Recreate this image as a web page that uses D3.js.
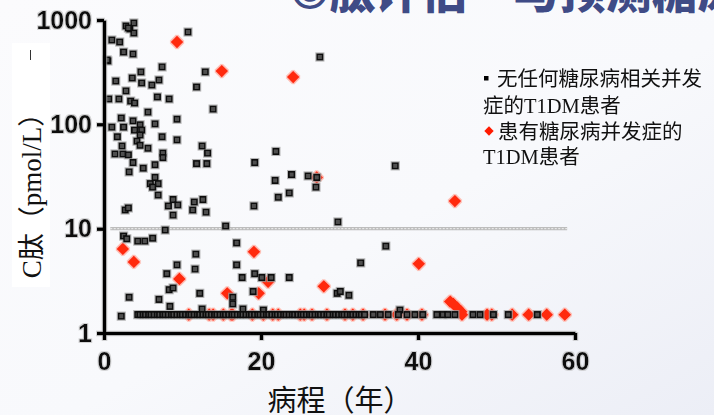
<!DOCTYPE html>
<html>
<head>
<meta charset="utf-8">
<script src="https://cdn.jsdelivr.net/npm/d3@7"></script>
<style>
  html, body { margin: 0; padding: 0; }
  body { width: 714px; height: 415px; overflow: hidden; }
  svg { display: block; }
</style>
</head>
<body>
<svg id="chart" width="714" height="415"></svg>
<script>
// C-peptide (pmol/L) against diabetes duration (years)
const xTicks = [0, 20, 40, 60];
const yTicks = [1, 10, 100, 1000];
const detectionLevel = 10;          // dashed reference line
const detectionSpan = [0.8, 59];

// T1DM patients without any diabetes-related complication: [duration, C-peptide]
const noComplication = [
  [2.8, 877], [3.8, 936], [3.3, 820], [3.8, 750], [3.1, 838],
  [1.0, 643], [2.0, 615], [10.7, 767], [2.5, 493], [3.7, 472],
  [0.5, 405], [0.4, 414], [7.4, 355], [4.7, 318], [3.6, 278], [1.5, 260],
  [4.8, 249], [6.1, 238], [7.0, 266], [11.8, 228], [12.9, 318],
  [2.8, 209], [1.9, 175], [0.6, 175], [3.4, 167], [3.9, 160],
  [6.8, 183], [8.3, 175], [13.9, 140], [5.6, 131], [9.3, 112],
  [2.2, 115], [3.7, 108], [4.6, 99], [6.5, 101], [1.0, 94], [2.5, 94],
  [27.5, 442], [3.9, 88], [4.8, 88], [1.7, 76], [4.6, 79], [4.2, 69],
  [7.4, 76], [9.3, 71], [12.5, 62], [13.2, 53], [4.6, 63], [5.6, 59],
  [2.3, 62], [1.4, 52], [2.4, 52], [3.1, 51], [7.5, 53], [7.5, 48],
  [11.8, 42], [13.1, 42], [3.7, 43], [3.2, 35], [5.0, 38], [6.5, 41],
  [6.5, 31], [5.9, 27], [6.9, 27], [6.2, 25], [6.9, 21], [8.8, 19],
  [8.2, 16.5], [9.4, 16.9], [8.8, 13.5], [11.5, 18], [11.3, 15.1],
  [12.6, 19], [13.0, 14.4], [2.7, 15.1], [3.1, 15.8], [7.8, 9.7],
  [21.9, 55], [19.2, 43], [23.9, 33], [26.0, 32], [27.0, 25], [21.8, 29],
  [22.2, 20], [23.6, 22], [19.1, 16.5], [15.5, 10.6], [29.8, 11.6],
  [37.1, 40], [27.1, 31],
  [2.5, 8.5], [2.9, 8.0], [4.3, 7.6], [5.2, 7.6], [6.2, 8.1], [16.9, 7.3],
  [11.7, 5.7], [9.3, 4.5], [11.6, 4.1], [16.9, 4.5], [8.0, 3.7],
  [8.3, 2.6], [8.8, 2.7], [12.2, 2.4], [17.6, 3.4], [19.2, 3.7],
  [20.1, 3.4], [21.3, 3.4], [23.6, 3.4], [3.2, 2.2], [7.0, 2.1],
  [8.4, 1.8], [16.4, 2.2], [16.4, 1.9], [19.0, 2.5], [17.7, 1.7],
  [20.3, 1.66], [2.2, 1.45], [12.5, 1.7], [29.7, 2.4], [30.1, 2.5],
  [31.2, 2.3], [32.7, 4.7], [35.9, 6.8], [37.7, 1.66],
  // patients at the 1.5 pmol/L floor
  [4.3, 1.5], [4.6, 1.5], [5.0, 1.5], [5.3, 1.5], [5.7, 1.5], [6.0, 1.5],
  [6.4, 1.5], [6.8, 1.5], [7.1, 1.5], [7.5, 1.5], [7.8, 1.5], [8.2, 1.5],
  [8.6, 1.5], [8.9, 1.5], [9.3, 1.5], [9.7, 1.5], [10.0, 1.5], [10.4, 1.5],
  [10.8, 1.5], [11.1, 1.5], [11.5, 1.5], [11.9, 1.5], [12.2, 1.5], [12.6, 1.5],
  [13.0, 1.5], [13.3, 1.5], [13.7, 1.5], [14.1, 1.5], [14.4, 1.5], [14.8, 1.5],
  [15.2, 1.5], [15.5, 1.5], [15.9, 1.5], [16.3, 1.5], [16.6, 1.5], [17.0, 1.5],
  [17.4, 1.5], [17.7, 1.5], [18.1, 1.5], [18.5, 1.5], [18.8, 1.5], [19.2, 1.5],
  [19.6, 1.5], [19.9, 1.5], [20.3, 1.5], [20.7, 1.5], [21.0, 1.5], [21.4, 1.5],
  [21.8, 1.5], [22.1, 1.5], [22.5, 1.5], [22.9, 1.5], [23.2, 1.5], [23.6, 1.5],
  [24.0, 1.5], [24.3, 1.5], [24.7, 1.5], [25.1, 1.5], [25.4, 1.5], [25.8, 1.5],
  [26.2, 1.5], [26.5, 1.5], [26.9, 1.5], [27.3, 1.5], [27.6, 1.5], [28.0, 1.5],
  [28.4, 1.5], [28.7, 1.5], [29.2, 1.5], [29.5, 1.5], [29.9, 1.5], [30.3, 1.5],
  [30.6, 1.5], [31.0, 1.5], [31.4, 1.5], [31.7, 1.5], [32.1, 1.5], [32.5, 1.5],
  [32.8, 1.5], [33.2, 1.5], [34.3, 1.5], [35.2, 1.5], [36.2, 1.5], [37.5, 1.5],
  [38.6, 1.5], [39.6, 1.5], [40.6, 1.5], [42.4, 1.5], [43.2, 1.5], [43.8, 1.5],
  [44.7, 1.5], [47.0, 1.5], [47.9, 1.5], [49.6, 1.5], [51.5, 1.5], [55.2, 1.5]
];

// T1DM patients with diabetic complications: [duration, C-peptide]
const complication = [
  [9.3, 615], [15.0, 324], [24.1, 284], [27.1, 31], [44.7, 18.4],
  [2.4, 6.4], [3.8, 4.8], [19.1, 6.0], [40.1, 4.6], [9.6, 3.3],
  [15.7, 2.4], [19.7, 2.4], [20.9, 3.1], [28.0, 2.8],
  [44.1, 2.0], [44.5, 1.9], [45.0, 1.75], [45.5, 1.6],
  [10.8, 1.5], [13.4, 1.5], [13.9, 1.5], [15.2, 1.5], [16.2, 1.5], [16.4, 1.5],
  [18.9, 1.5], [20.3, 1.5], [21.5, 1.5], [22.2, 1.5], [25.0, 1.5], [25.5, 1.5],
  [26.5, 1.5], [28.4, 1.5], [30.7, 1.5], [31.7, 1.5], [33.0, 1.5], [35.8, 1.5],
  [37.3, 1.5], [38.6, 1.5], [40.5, 1.5], [45.6, 1.5], [48.8, 1.5], [49.4, 1.5],
  [52.0, 1.5], [54.1, 1.5], [56.4, 1.5], [58.7, 1.5]
];

const legendNoComp = ["无任何糖尿病相关并发", "症的T1DM患者"];
const legendComp = ["患有糖尿病并发症的", "T1DM患者"];
const titleText = "©肽评估·与预测糖尿病并发症";

const svg = d3.select("#chart");
const defs = svg.append("defs");

const bg = defs.append("linearGradient").attr("id", "bg")
  .attr("x1", 0).attr("y1", 0).attr("x2", 1).attr("y2", 1);
bg.append("stop").attr("offset", "0%").attr("stop-color", "#fbfbfd");
bg.append("stop").attr("offset", "55%").attr("stop-color", "#f8f9fc");
bg.append("stop").attr("offset", "100%").attr("stop-color", "#eceef6");

function halo(id, color, opacity, r) {
  const f = defs.append("filter").attr("id", id)
    .attr("x", "-20%").attr("y", "-20%").attr("width", "140%").attr("height", "140%");
  f.append("feMorphology").attr("in", "SourceAlpha").attr("operator", "dilate")
    .attr("radius", r).attr("result", "d");
  f.append("feGaussianBlur").attr("in", "d").attr("stdDeviation", 0.7).attr("result", "b");
  f.append("feFlood").attr("flood-color", color).attr("flood-opacity", opacity);
  f.append("feComposite").attr("in2", "b").attr("operator", "in").attr("result", "h");
  const m = f.append("feMerge");
  m.append("feMergeNode").attr("in", "h");
  m.append("feMergeNode").attr("in", "SourceGraphic");
}
halo("haloGrey", "#a0a0a0", 0.75, 1.3);
halo("haloRed", "#ffb0a2", 0.8, 1.3);
halo("haloText", "#b8b8b8", 0.6, 0.8);

svg.append("rect").attr("width", 714).attr("height", 415).attr("fill", "url(#bg)");

// slide title, cut by the top edge
svg.append("text")
  .attr("x", 290).attr("y", 8)
  .attr("font-family", "'Noto Sans CJK SC', sans-serif")
  .attr("font-weight", 900)
  .attr("font-size", 46)
  .attr("fill", "#3f4b86")
  .text(titleText);

const x = d3.scaleLinear().domain([0, 60]).range([104, 575]);
const y = d3.scaleLog().domain([1, 1000]).range([333, 20]);

// y axis title on a white panel
svg.append("rect").attr("x", 12).attr("y", 43).attr("width", 38).attr("height", 244).attr("fill", "#ffffff");
svg.append("line").attr("x1", 30.5).attr("x2", 30.5).attr("y1", 50).attr("y2", 60)
  .attr("stroke", "#333").attr("stroke-width", 1);
svg.append("text")
  .attr("transform", "translate(41,189) rotate(-90)")
  .attr("text-anchor", "middle")
  .attr("font-family", "'Liberation Serif', 'Noto Sans CJK SC', serif")
  .attr("font-size", 27)
  .attr("fill", "#111")
  .text("C肽（pmol/L）");

// x axis title
svg.append("text")
  .attr("x", 340).attr("y", 411)
  .attr("text-anchor", "middle")
  .attr("font-family", "'Noto Sans CJK SC', sans-serif")
  .attr("font-size", 29)
  .attr("fill", "#111")
  .text("病程（年）");

// dashed detection line at 10 pmol/L
const refG = svg.append("g");
refG.append("line")
  .attr("x1", x(detectionSpan[0])).attr("x2", x(detectionSpan[1]))
  .attr("y1", y(detectionLevel)).attr("y2", y(detectionLevel))
  .attr("stroke", "#bdbdbd").attr("stroke-width", 3.4);
refG.append("line")
  .attr("x1", x(detectionSpan[0])).attr("x2", x(detectionSpan[1]))
  .attr("y1", y(detectionLevel)).attr("y2", y(detectionLevel))
  .attr("stroke", "#f0f0f0").attr("stroke-width", 1)
  .attr("stroke-dasharray", "2,1.5");

// red diamonds underneath, squares on top
const diamond = d3.symbol().type(d3.symbolSquare).size(82);
svg.append("g").attr("filter", "url(#haloRed)")
  .selectAll("path").data(complication).join("path")
  .attr("d", diamond)
  .attr("transform", d => `translate(${x(d[0])},${y(d[1])}) rotate(45)`)
  .attr("fill", "#ff2a0a");

svg.append("g").attr("filter", "url(#haloGrey)")
  .selectAll("rect").data(noComplication).join("rect")
  .attr("x", d => x(d[0]) - 2.8).attr("y", d => y(d[1]) - 2.8)
  .attr("width", 5.6).attr("height", 5.6)
  .attr("fill", "#505050")
  .attr("stroke", "#0a0a0a").attr("stroke-width", 1.6);

// axes
const axesG = svg.append("g").attr("filter", "url(#haloText)");
const yAxis = axesG.append("g").attr("transform", "translate(104,0)")
  .call(d3.axisLeft(y).tickValues(yTicks).tickFormat(d3.format("d"))
    .tickSize(7).tickSizeOuter(0).tickPadding(5));
const xAxis = axesG.append("g").attr("transform", "translate(0,333)")
  .call(d3.axisBottom(x).tickValues(xTicks).tickSize(7).tickSizeOuter(0).tickPadding(12));
[yAxis, xAxis].forEach(a => {
  a.select(".domain").attr("stroke", "#000").attr("stroke-width", 3.6);
  a.selectAll(".tick line").attr("stroke", "#000").attr("stroke-width", 3.6);
  a.selectAll(".tick text")
    .attr("font-family", "'Liberation Sans', Arial, sans-serif")
    .attr("font-weight", "bold").attr("font-size", 25).attr("fill", "#111");
});

// legend
const lg = svg.append("g")
  .attr("font-family", "'Liberation Serif', 'Noto Sans CJK SC', serif")
  .attr("font-size", 20.5).attr("fill", "#111");
lg.append("rect").attr("x", 484).attr("y", 76).attr("width", 4.5).attr("height", 4.5).attr("fill", "#000");
lg.append("text").attr("x", 497).attr("y", 86).text(legendNoComp[0]);
lg.append("text").attr("x", 483).attr("y", 113).text(legendNoComp[1]);
lg.append("path").attr("d", d3.symbol().type(d3.symbolSquare).size(44))
  .attr("transform", "translate(489,131) rotate(45)").attr("fill", "#ff1a00");
lg.append("text").attr("x", 498).attr("y", 139).text(legendComp[0]);
lg.append("text").attr("x", 483).attr("y", 164).text(legendComp[1]);
</script>
</body>
</html>
